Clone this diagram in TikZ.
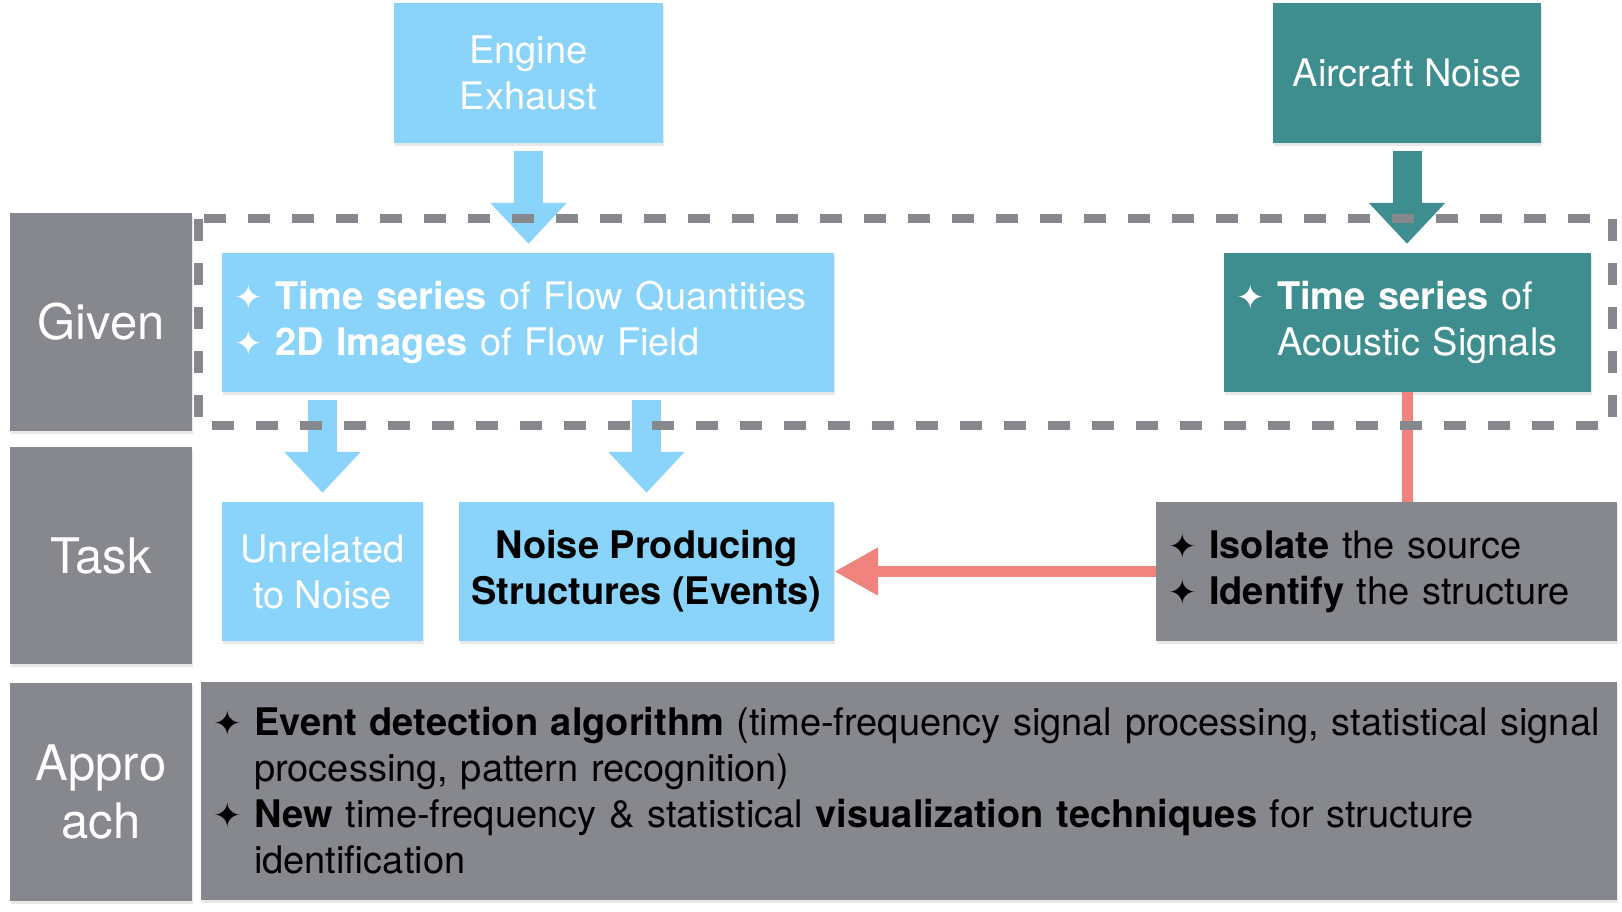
\documentclass[tikz,border=0pt]{standalone}
\usepackage{fontspec}
\setmainfont{TeX Gyre Heros}
\newfontfamily\starfont{DejaVu Sans}
\usepackage{tikz}
\usetikzlibrary{arrows.meta,
                shadows,
                positioning}
\definecolor{skyblue}{RGB}{138,211,250}
\definecolor{seateal}{RGB}{63,142,143}
\definecolor{slategrey}{RGB}{134,136,141}
\definecolor{salmonred}{RGB}{240,131,125}
\newcommand{\spark}{{\starfont\fontsize{34}{34}\selectfont ✦}}
\tikzstyle{boxshadow} = [drop shadow={shadow xshift=1pt, shadow yshift=-3pt, opacity=0.18}]
\tikzstyle{rowlabel} = [rectangle, minimum width=182pt, minimum height=218pt, inner sep=0pt, fill=slategrey, text=white, align=center, font=\fontsize{49}{58}\selectfont, boxshadow]
\tikzstyle{flowbox} = [rectangle, minimum height=139pt, inner sep=12pt, fill=skyblue, text=white, font=\fontsize{38}{46}\selectfont, boxshadow]
\tikzstyle{noisebox} = [flowbox, fill=seateal]
\tikzstyle{taskbox} = [flowbox, fill=slategrey, text=black]
\tikzstyle{bigarrow} = [line width=29pt, -{Triangle[width=74pt,length=41pt]}, shorten <=8pt, shorten >=9pt]
\tikzstyle{link} = [line width=11pt, draw=salmonred]
\tikzstyle{linkarrow} = [link, -{Triangle[width=45pt,length=44pt]}]
\tikzstyle{givenframe} = [draw=slategrey, line width=9pt, dash pattern=on 22pt off 22pt]

\begin{document}
\begin{tikzpicture}[x=1pt, y=-1pt]
\useasboundingbox (0,0) rectangle (1622,912);
\node (eng) [flowbox, minimum width=269pt, minimum height=140pt, align=center] at (528.5,73) {Engine\\Exhaust};
\node (air) [noisebox, minimum width=268pt, minimum height=140pt] at (1407,73) {Aircraft Noise};
\node (given) [rowlabel] at (101,322) {Given};
\node (task) [rowlabel, minimum height=217pt, below=16pt of given] {Task};
\node (appr) [rowlabel, below=18pt of task] {Appro\\ach};
\node (flow) [flowbox, text width=588pt, align=left] at (528,322.5) {\spark\ \textbf{Time series} of Flow Quantities\\\spark\ \textbf{2D Images} of Flow Field};
\node (acou) [noisebox, text width=343pt, align=left] at (1407.5,322.5) {\spark\ \textbf{Time series} of\\\phantom{\spark\ }Acoustic Signals};
\node (unrel) [flowbox, minimum width=201pt, inner xsep=0pt, align=center] at (322.5,571.5) {Unrelated\\to Noise};
\node (events) [flowbox, minimum width=375pt, inner xsep=0pt, text=black, font=\bfseries\fontsize{38}{46}\selectfont, align=center] at (646.5,571.5) {Noise Producing\\Structures (Events)};
\node (isol) [taskbox, text width=437pt, align=left] at (1386.5,571.5) {\spark\ \textbf{Isolate} the source\\\spark\ \textbf{Identify} the structure};
\node (method) [taskbox, text width=1392pt, minimum height=218pt, align=left] at (909,791) {\spark\ \textbf{Event detection algorithm} (time-frequency signal processing, statistical signal\\\phantom{\spark\ }processing, pattern recognition)\\\spark\ \textbf{New} time-frequency \& statistical \textbf{visualization techniques} for structure\\\phantom{\spark\ }identification};

\draw [bigarrow, skyblue] (eng.south) -- (eng.south |- flow.north);
\draw [bigarrow, seateal] (air.south) -- (air.south |- acou.north);
\draw [bigarrow, skyblue] (flow.south -| unrel.north) -- (unrel.north);
\draw [bigarrow, skyblue] (flow.south -| events.north) -- (events.north);
\draw [link] (acou.south) -- (acou.south |- isol.north);
\draw [linkarrow] (isol.west) -- (events.east);

\draw [givenframe] (198,219) rectangle (1612,425);
\end{tikzpicture}
\end{document}
